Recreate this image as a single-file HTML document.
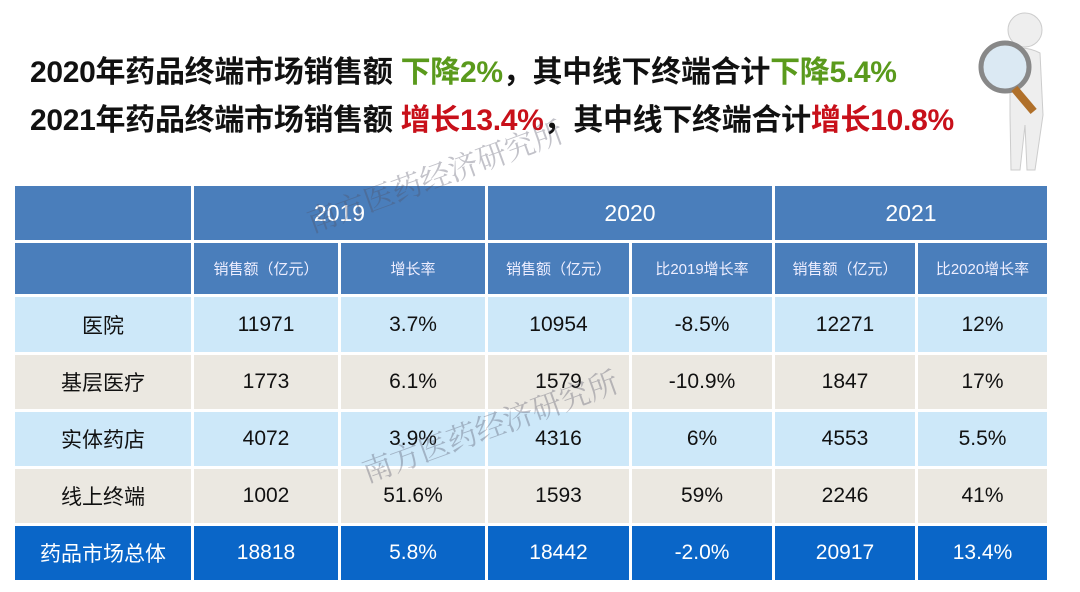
<!DOCTYPE html>
<html><head><meta charset="utf-8"><style>
body{margin:0;width:1080px;height:592px;background:#fff;overflow:hidden;position:relative;font-family:"Liberation Sans","Noto Sans CJK SC",sans-serif}
.t{position:absolute;left:30px;font-size:30px;font-weight:bold;color:#111;white-space:nowrap;letter-spacing:-0.3px}
.g{color:#5a9a1c}.r{color:#c8101a}
.c{position:absolute;display:flex;align-items:center;justify-content:center;box-sizing:border-box;border-right:3px solid #fff;border-bottom:3px solid #fff;font-size:21px;color:#111}
.h{background:#4a7ebb;color:#fff;font-size:23px}
.h2{background:#4a7ebb;color:#eef;font-size:15px}
.b{background:#cde8f9}.e{background:#ebe8e1}.tt{background:#0a66c8;color:#fff}
</style></head><body>
<div class="t" style="top:47px">2020年药品终端市场销售额 <span class="g">下降2%</span>，其中线下终端合计<span class="g">下降5.4%</span></div>
<div class="t" style="top:95px">2021年药品终端市场销售额 <span class="r">增长13.4%</span>，其中线下终端合计<span class="r">增长10.8%</span></div>
<svg style="position:absolute;left:975px;top:5px" width="100" height="170">
<circle cx="50" cy="25" r="17" fill="#eee" stroke="#ccc"/>
<path d="M35 45 Q50 40 65 48 L68 110 L60 165 L52 165 L50 120 L45 165 L36 165 L35 110 Z" fill="#eee" stroke="#ccc"/>
<circle cx="30" cy="62" r="24" fill="#dbe9f3" stroke="#888" stroke-width="5"/>
<rect x="45" y="80" width="8" height="30" fill="#b0702a" transform="rotate(-40 49 95)"/>
</svg>
<div id="tb"></div>
<script>
const X=[15,194,341,488,632,775,918,1050],Y=[186,243,297,355,412,469,526,583];
let h='';
function cell(c0,c1,r0,r1,cls,txt){h+=`<div class="c ${cls}" style="left:${X[c0]}px;top:${Y[r0]}px;width:${X[c1]-X[c0]}px;height:${Y[r1]-Y[r0]}px">${txt}</div>`}
cell(0,1,0,1,'h','');cell(1,3,0,1,'h','2019');cell(3,5,0,1,'h','2020');cell(5,7,0,1,'h','2021');
['','销售额（亿元）','增长率','销售额（亿元）','比2019增长率','销售额（亿元）','比2020增长率'].forEach((t,i)=>cell(i,i+1,1,2,'h2',t));
const d=[['医院','11971','3.7%','10954','-8.5%','12271','12%'],['基层医疗','1773','6.1%','1579','-10.9%','1847','17%'],['实体药店','4072','3.9%','4316','6%','4553','5.5%'],['线上终端','1002','51.6%','1593','59%','2246','41%'],['药品市场总体','18818','5.8%','18442','-2.0%','20917','13.4%']];
d.forEach((r,ri)=>r.forEach((t,i)=>cell(i,i+1,ri+2,ri+3,ri==4?'tt':(ri%2?'e':'b'),t)));
document.getElementById('tb').innerHTML=h;
</script>
<div style="position:absolute;left:300px;top:200px;font-family:'Noto Serif CJK SC',serif;font-size:30px;color:rgba(80,80,100,0.35);transform:rotate(-20deg);transform-origin:left top">南方医药经济研究所</div>
<div style="position:absolute;left:355px;top:450px;font-family:'Noto Serif CJK SC',serif;font-size:30px;color:rgba(80,80,100,0.35);transform:rotate(-20deg);transform-origin:left top">南方医药经济研究所</div>
</body></html>
